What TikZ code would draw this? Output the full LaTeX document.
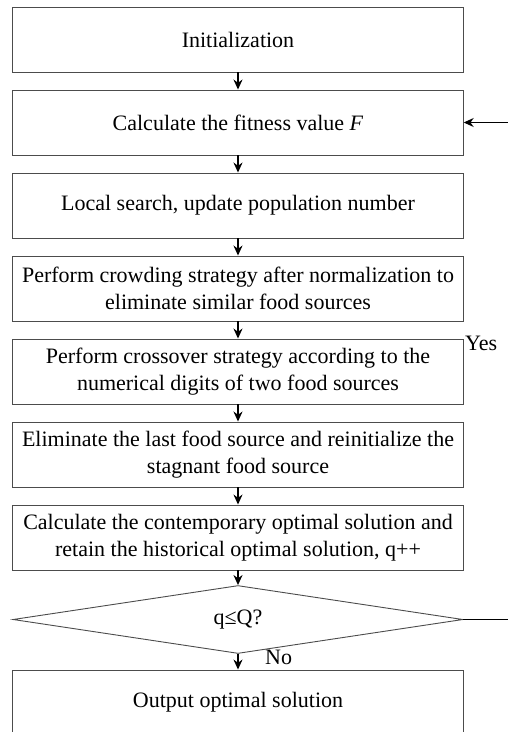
\documentclass[tikz,border=0pt]{standalone}
\usepackage{fontspec}
\setmainfont{Liberation Serif}
\usetikzlibrary{shapes.geometric,arrows.meta}
\begin{document}
\begin{tikzpicture}[x=1pt,y=-1pt,
  stepbox/.style={draw=black!70,line width=0.9pt,minimum width=450.5pt,minimum height=65pt,
    align=center,inner sep=2pt,font=\fontsize{22}{27}\selectfont},
  decbox/.style={draw=black!70,line width=0.9pt,diamond,minimum width=450pt,minimum height=65pt,
    inner sep=0pt,font=\fontsize{22}{27}\selectfont},
  flow/.style={draw=black,line width=1.5pt,-{Stealth[length=10pt,width=9pt]}},
  lbl/.style={font=\fontsize{22}{27}\selectfont,inner sep=0pt}]
\useasboundingbox (0,0) rectangle (508,732);
\clip (0,0) rectangle (508,732);
\node[stepbox] (b1) at (238,39.5) {Initialization};
\node[stepbox] (b2) at (238,122.5) {Calculate the fitness value \textit{F}};
\node[stepbox] (b3) at (238,205.5) {Local search, update population number};
\node[stepbox] (b4) at (238,288.5) {Perform crowding strategy after normalization to\\eliminate similar food sources};
\node[stepbox] (b5) at (238,371.5) {Perform crossover strategy according to the\\numerical digits of two food sources};
\node[stepbox] (b6) at (238,454.5) {Eliminate the last food source and reinitialize the\\stagnant food source};
\node[stepbox] (b7) at (238,537.5) {Calculate the contemporary optimal solution and\\retain the historical optimal solution, q++};
\node[decbox] (d) at (238,619.5) {q≤Q?};
\node[stepbox] (b8) at (238,702.5) {Output optimal solution};
\draw[flow] (b1) -- (b2);
\draw[flow] (b2) -- (b3);
\draw[flow] (b3) -- (b4);
\draw[flow] (b4) -- (b5);
\draw[flow] (b5) -- (b6);
\draw[flow] (b6) -- (b7);
\draw[flow] (b7) -- (d);
\draw[flow] (d) -- (b8);
\coordinate (r1) at (525,619.5);
\coordinate (r2) at (525,122.5);
\draw[flow,line width=1.2pt] (d.east) -- (r1) -- (r2) -- (b2.east);
\node[lbl,anchor=west] (yes) at (465,343) {Yes};
\node[lbl,anchor=west] (no) at (265,657) {No};
\end{tikzpicture}
\end{document}
